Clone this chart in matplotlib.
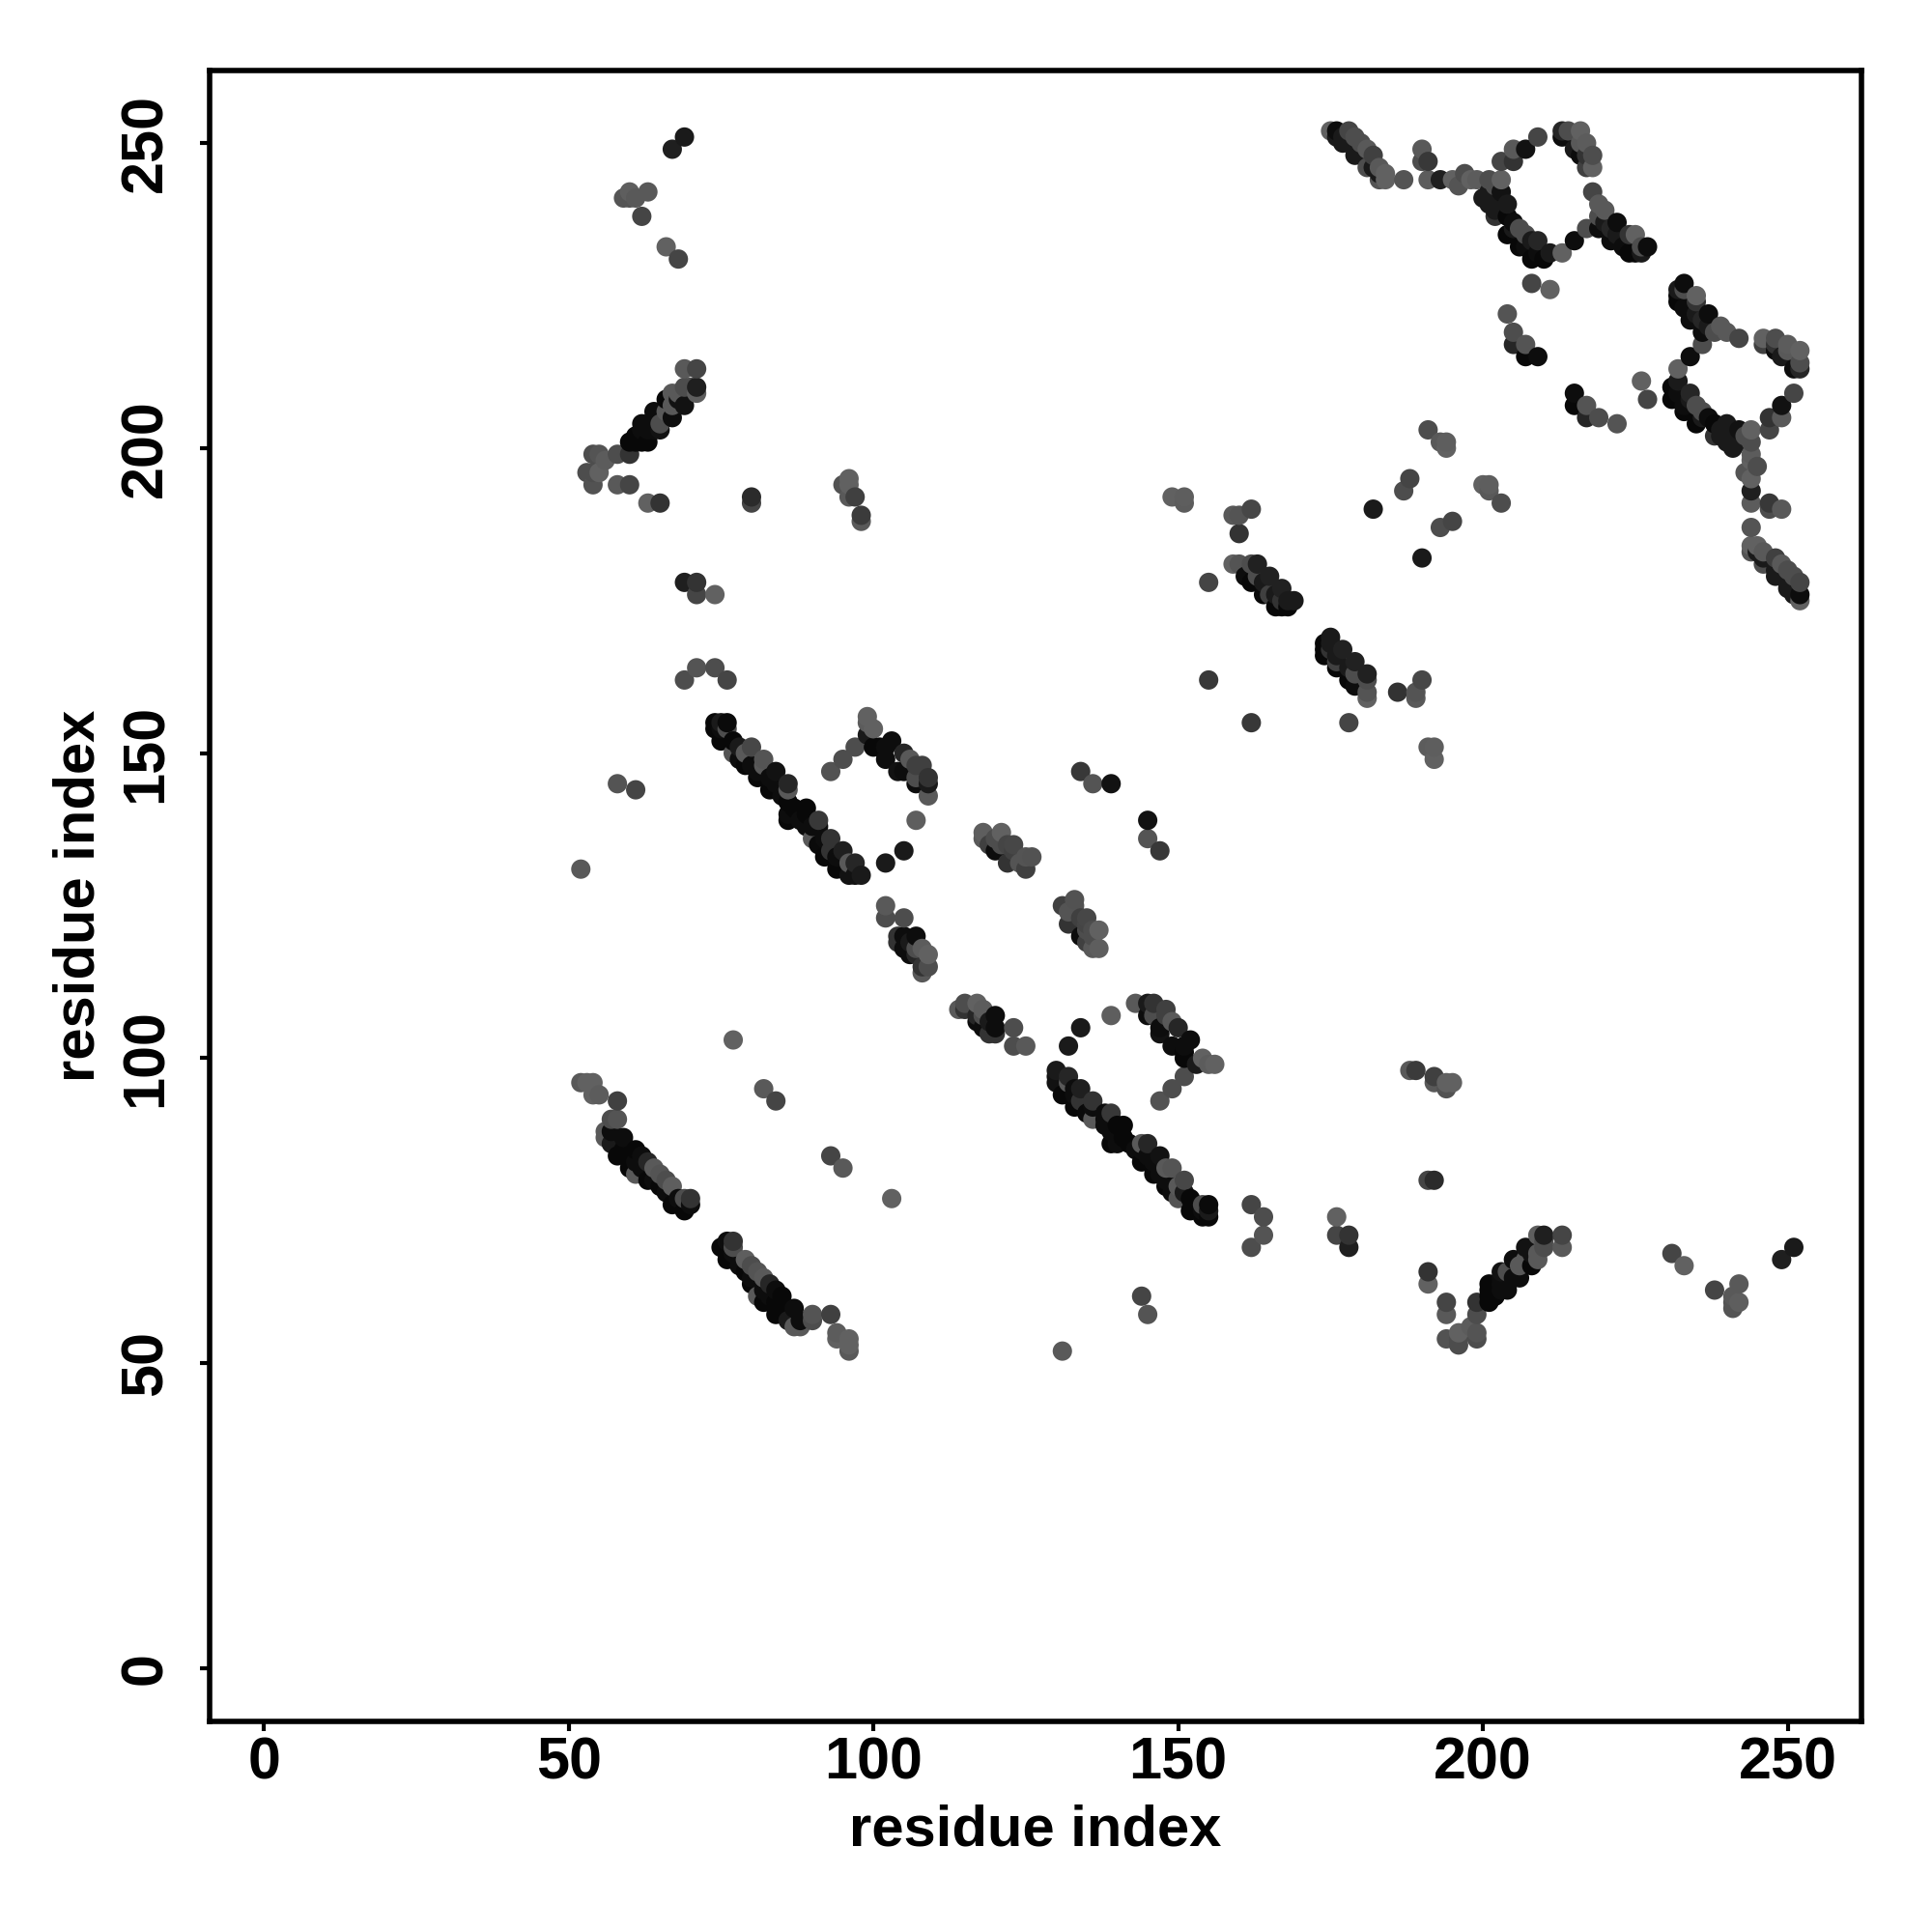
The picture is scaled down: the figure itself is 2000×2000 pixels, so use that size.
import matplotlib
matplotlib.use("Agg")
import matplotlib.pyplot as plt
import numpy as np

# contacts, one triangle only, map is symmetric
top_left_i = [69, 67, 63, 60, 59, 60, 61, 62, 66, 68]
top_left_j = [251, 249, 242, 242, 241, 241, 241, 238, 233, 231]
top_left_g = [.1, .12, .35, .37, .33, .33, .35, .27, .38, .27]

band_a_i = [69, 71, 69, 71, 71, 70, 68, 67, 66, 69, 68, 67, 67, 66, 64, 64, 65, 65, 64, 62, 62, 63, 61, 60, 60, 62, 58,
            54, 55, 56, 53, 55, 54, 54, 58, 60, 63, 65, 63, 61]
band_a_j = [213, 213, 210, 209, 210, 210, 209, 209, 208, 207, 208, 207, 205, 206, 206, 205, 203, 204, 203, 204, 203,
            201, 201, 201, 199, 201, 199, 199, 199, 198, 196, 196, 196, 194, 194, 194, 191, 191, 203, 202]
band_a_g = [.35, .27, .3, .37, .12, .3, .35, .35, .03, .07, .07, .35, .05, .35, .05, .05, .07, .3, .05, .05, .05,
            .03, .03, .03, .2, .03, .3, .3, .33, .36, .3, .38, .3, .32, .35, .27, .38, .2, .05, .03]

mid_left_i = [80, 80, 95, 96, 96, 96, 97, 98, 98, 69, 71, 71, 74, 69, 71, 74, 76, 58, 61, 52, 77, 82, 84]
mid_left_j = [191, 192, 194, 195, 194, 192, 192, 188, 189, 178, 178, 176, 176, 162, 164, 164, 162, 145, 144, 131,
              103, 95, 93]
mid_left_g = [.27, .17, .32, .38, .38, .35, .25, .35, .23, .12, .2, .27, .38, .3, .33, .3, .27, .33, .27, .35,
              .38, .35, .27]

band_b_i = [52, 53, 54, 54, 55, 58, 57, 58, 56, 56, 57, 59, 57, 58, 61, 60, 60, 61, 63, 64, 63, 65, 66, 65, 67, 67,
            69, 69, 70, 70, 59, 62, 61, 62, 64, 66, 68]
band_b_j = [96, 96, 96, 94, 94, 93, 90, 90, 88, 87, 88, 87, 86, 84, 85, 84, 82, 81, 83, 82, 80, 81, 80, 79, 79, 76,
            75, 77, 76, 77, 85, 84, 83, 82, 80, 78, 77]
band_b_g = [.35, .38, .38, .38, .36, .25, .3, .33, .35, .35, .05, .05, .1, .03, .03, .03, .03, .35, .15, .35, .03,
            .33, .3, .03, .37, .03, .03, .3, .05, .2, .03, .05, .05, .05, .05, .05, .05]

band_c_i = [74, 74, 75, 75, 75, 76, 76, 77, 77, 78, 79, 79, 80, 81, 82, 82, 83, 84, 84, 85, 86, 86, 86, 86, 86, 87,
            88, 89, 89, 89, 90, 91, 91, 91, 92, 93, 93, 94, 95, 95, 96, 96, 97, 97, 98,
            78, 80, 81, 83, 85, 90, 92, 94]
band_c_j = [154, 155, 152, 155, 154, 154, 155, 150, 152, 151, 148, 150, 151, 146, 148, 149, 144, 145, 147, 144, 139,
            140, 142, 144, 145, 141, 139, 138, 140, 141, 136, 135, 138, 139, 133, 134, 136, 131, 134, 133, 130, 132,
            130, 132, 130, 149, 148, 147, 146, 143, 138, 136, 133]
band_c_g = [.03, .03, .03, .1, .05, .3, .04, .33, .03, .1, .03, .35, .28, .03, .35, .33, .03, .05, .07, .05, .03,
            .05, .03, .35, .15, .03, .05, .05, .03, .03, .35, .04, .05, .22, .03, .2, .2, .03, .12, .05, .07, .35,
            .07, .15, .1, .05, .05, .05, .05, .05, .05, .05, .05]

band_d_i = [93, 95, 97, 99, 99, 100, 99, 100, 101, 102, 103, 102, 105, 104, 106, 107, 108, 109, 109, 109, 107, 105,
            107, 107, 105, 102]
band_d_j = [147, 149, 151, 156, 155, 154, 153, 151, 151, 151, 152, 149, 150, 147, 149, 148, 148, 146, 145, 143, 145,
            147, 146, 139, 134, 132]
band_d_g = [.32, .3, .3, .38, .36, .38, .1, .03, .03, .05, .05, .05, .15, .07, .35, .25, .25, .2, .1, .35, .05,
            .05, .3, .37, .1, .1]

band_e_i = [102, 102, 105, 104, 105, 107, 104, 106, 105, 106, 107, 107, 108, 109, 108, 108, 109]
band_e_j = [125, 123, 123, 120, 120, 120, 119, 117, 118, 119, 117, 118, 118, 117, 114, 115, 115]
band_e_g = [.35, .3, .3, .2, .05, .05, .2, .05, .05, .1, .15, .3, .36, .38, .35, .2, .3]

band_f_i = [118, 121, 119, 120, 120, 121, 122, 123, 122, 123, 124, 125, 125, 126, 118, 121]
band_f_j = [137, 137, 135, 134, 136, 135, 135, 135, 132, 134, 132, 131, 133, 133, 136, 136]
band_f_g = [.37, .38, .25, .05, .3, .3, .27, .28, .2, .25, .33, .25, .33, .32, .35, .3]

centre_i = [134, 136, 139, 149, 151, 151, 159, 160, 160, 162, 155, 155, 159, 160, 162, 163, 162, 163, 165, 164, 165,
            167, 166, 167, 167, 168, 169, 161, 164, 166, 168]
centre_j = [147, 145, 145, 192, 192, 191, 189, 189, 186, 190, 178, 162, 181, 181, 181, 181, 178, 179, 179, 176, 176,
            177, 174, 174, 175, 174, 175, 179, 178, 176, 175]
centre_g = [.22, .33, .07, .38, .37, .36, .35, .33, .2, .28, .27, .22, .38, .33, .3, .13, .03, .3, .13, .03, .25,
            .13, .03, .03, .2, .03, .1, .05, .1, .1, .1]

upper_a_i = [182, 187, 188, 191, 193, 194, 194, 175, 176, 177, 177, 178, 179, 180, 179, 182, 181, 181, 183, 184, 183,
             184, 187, 191, 193, 190, 190, 191, 176, 178, 180, 182, 183]
upper_a_j = [190, 193, 195, 203, 201, 201, 200, 252, 252, 251, 250, 252, 251, 250, 248, 248, 249, 246, 246, 245, 244,
             244, 244, 244, 244, 249, 247, 247, 251, 250, 248, 246, 245]
upper_a_g = [.1, .3, .27, .3, .35, .37, .38, .38, .05, .1, .1, .27, .3, .3, .1, .25, .35, .3, .35, .38, .33,
             .38, .33, .36, .12, .35, .3, .22, .1, .1, .1, .1, .1]

ring_a_i = [195, 197, 196, 198, 199, 201, 203, 200, 203, 202, 202, 202, 204, 204, 206, 207, 206, 209, 208, 211, 210,
            213, 205, 203, 205, 207, 209, 215, 217, 204, 205, 205, 207, 208, 209, 201, 201, 203, 203]
ring_a_j = [244, 245, 243, 244, 244, 244, 244, 241, 242, 243, 239, 238, 238, 235, 236, 235, 233, 234, 231, 232, 231,
            232, 249, 247, 247, 249, 251, 234, 236, 240, 237, 236, 233, 234, 232, 242, 240, 239, 240]
ring_a_g = [.38, .3, .33, .38, .36, .3, .38, .1, .07, .3, .1, .2, .03, .03, .3, .3, .03, .15, .03, .1, .03,
            .38, .35, .27, .2, .07, .27, .05, .3, .1, .05, .1, .05, .1, .05, .1, .1, .1, .1]

ring_b_i = [213, 214, 216, 213, 215, 216, 217, 216, 218, 218, 218, 219, 220, 219, 222, 219, 221, 224, 225, 224, 227,
            226, 225, 226, 221, 220, 222, 223, 217, 217]
ring_b_j = [252, 252, 252, 251, 249, 250, 250, 248, 248, 246, 242, 240, 239, 238, 237, 236, 234, 235, 235, 232, 233,
            232, 232, 233, 236, 237, 235, 233, 248, 246]
ring_b_g = [.15, .3, .38, .05, .1, .35, .36, .05, .3, .38, .27, .35, .35, .3, .05, .05, .05, .2, .38, .03, .05,
            .1, .03, .3, .15, .1, .1, .05, .2, .25]

ring_c_i = [208, 211, 204, 205, 205, 207, 207, 209]
ring_c_j = [227, 226, 222, 219, 217, 217, 215, 215]
ring_c_g = [.27, .38, .33, .3, .15, .33, .03, .05]

tick_values = [0, 50, 100, 150, 200, 250]
axis_label = "residue index"

contact_i = np.array(top_left_i + band_a_i + mid_left_i + band_b_i + band_c_i + band_d_i + band_e_i + band_f_i
                     + centre_i + upper_a_i + ring_a_i + ring_b_i + ring_c_i)
contact_j = np.array(top_left_j + band_a_j + mid_left_j + band_b_j + band_c_j + band_d_j + band_e_j + band_f_j
                     + centre_j + upper_a_j + ring_a_j + ring_b_j + ring_c_j)
contact_g = np.array(top_left_g + band_a_g + mid_left_g + band_b_g + band_c_g + band_d_g + band_e_g + band_f_g
                     + centre_g + upper_a_g + ring_a_g + ring_b_g + ring_c_g)

# mirror, later residues get drawn on top
xs = np.concatenate([contact_i, contact_j])
ys = np.concatenate([contact_j, contact_i])
gs = np.concatenate([contact_g, contact_g])
order = np.lexsort((ys, xs))
xs, ys, gs = xs[order], ys[order], gs[order]
colors = [(g, g, g) for g in gs]

plt.rcParams["font.family"] = ["Liberation Sans", "DejaVu Sans"]
plt.rcParams["font.weight"] = "bold"

fig = plt.figure(figsize=(10, 10), dpi=200)
ax = fig.add_axes([217 / 2000, 1 - 1782 / 2000, 1710 / 2000, 1709 / 2000])
ax.scatter(xs, ys, s=52, c=colors, linewidths=0, zorder=3)
ax.set_xlim(-8.9, 262.1)
ax.set_ylim(-8.7, 261.9)

ax.set_xticks(tick_values)
ax.set_yticks(tick_values)
ax.tick_params(axis="both", length=3.6, width=1.5, labelsize=22)
ax.tick_params(axis="x", pad=1.8)
ax.tick_params(axis="y", pad=9.5)
for label in ax.get_yticklabels():
    label.set_rotation(90)
    label.set_va("center")
for side in ax.spines.values():
    side.set_linewidth(2)

ax.set_xlabel(axis_label, fontsize=21.5, fontweight="bold")
ax.set_ylabel(axis_label, fontsize=21.5, fontweight="bold")
ax.xaxis.set_label_coords(0.5, -0.0498)
ax.yaxis.set_label_coords(-0.0631, 0.5)

fig.savefig("out.png", dpi=200, facecolor="white")
